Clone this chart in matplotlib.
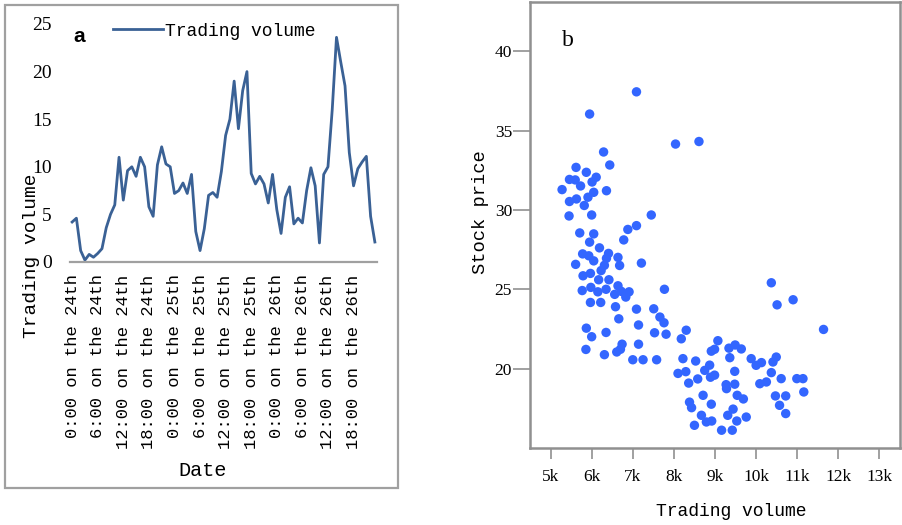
import matplotlib
matplotlib.use("Agg")
import matplotlib.pyplot as plt
from matplotlib.patches import Rectangle

# --- panel a: hourly trading volume, 24th-26th ---
volume = [4.2, 4.6, 1.2, 0.2, 0.8, 0.5, 0.9, 1.4, 3.6, 5.0,
          6.0, 11.0, 6.5, 9.6, 10.0, 9.0, 11.0, 10.0, 5.8, 4.8,
          10.2, 12.1, 10.3, 10.0, 7.2, 7.5, 8.3, 7.2, 9.2, 3.2,
          1.2, 3.5, 7.0, 7.3, 6.8, 9.5, 13.3, 15.0, 19.0, 14.0,
          18.0, 20.0, 9.3, 8.2, 9.0, 8.2, 6.2, 9.2, 5.5, 3.0,
          6.8, 7.9, 4.0, 4.6, 4.1, 7.5, 9.9, 8.0, 2.0, 9.2,
          10.0, 16.0, 23.6, 21.0, 18.5, 11.5, 8.0, 9.8, 10.5, 11.1,
          4.8, 2.1]
date_labels = ["0:00 on the 24th", "6:00 on the 24th", "12:00 on the 24th", "18:00 on the 24th",
               "0:00 on the 25th", "6:00 on the 25th", "12:00 on the 25th", "18:00 on the 25th",
               "0:00 on the 26th", "6:00 on the 26th", "12:00 on the 26th", "18:00 on the 26th"]

# --- panel b: trading volume vs stock price ---
trade_k = [7.09, 5.95, 8.04, 8.61, 6.29, 6.44, 5.62, 5.87, 6.11, 5.46,
           5.60, 6.01, 5.73, 5.28, 6.36, 6.05, 5.91, 5.63, 5.46, 5.82,
           5.45, 6.00, 7.45, 7.09, 6.88, 6.78, 5.71, 6.05, 5.95, 6.19,
           5.78, 5.93, 6.05, 6.41, 6.36, 6.64, 6.68, 5.61, 6.31, 6.23,
           7.21, 5.79, 5.97, 6.17, 6.42, 6.64, 5.77, 5.98, 6.15, 6.35,
           6.56, 6.72, 6.91, 6.83, 7.77, 5.97, 6.22, 6.58, 7.09, 7.51,
           6.66, 7.66, 7.76, 7.14, 5.87, 6.00, 6.35, 7.53, 7.81, 8.30,
           8.18, 6.74, 6.70, 6.61, 7.14, 5.86, 6.31, 7.00, 7.25, 7.58,
           8.22, 8.53, 9.07, 8.99, 8.91, 9.34, 9.49, 9.64, 9.36, 9.88,
           10.00, 10.13, 10.49, 10.41, 10.37, 10.51, 10.90, 11.64, 8.10, 8.29,
           8.36, 8.58, 8.75, 8.87, 8.99, 8.89, 9.48, 9.27, 9.48, 9.28,
           9.54, 9.69, 8.71, 8.38, 8.43, 8.91, 9.44, 9.31, 8.67, 8.79,
           8.92, 9.53, 9.76, 8.50, 9.16, 9.42, 10.09, 10.25, 10.37, 10.61,
           10.99, 11.14, 11.16, 10.47, 10.72, 10.57, 10.72]
price = [37.44, 36.04, 34.15, 34.31, 33.65, 32.83, 32.68, 32.37, 32.06, 31.92,
         31.89, 31.76, 31.51, 31.28, 31.21, 31.11, 30.80, 30.69, 30.53, 30.28,
         29.62, 29.68, 29.68, 29.01, 28.77, 28.11, 28.55, 28.49, 27.97, 27.61,
         27.23, 27.11, 26.79, 27.26, 26.95, 27.01, 26.50, 26.57, 26.51, 26.18,
         26.65, 25.85, 26.00, 25.60, 25.60, 25.22, 24.92, 25.12, 24.84, 25.00,
         24.68, 24.87, 24.84, 24.51, 25.00, 24.17, 24.17, 23.90, 23.75, 23.77,
         23.14, 23.25, 22.89, 22.75, 22.55, 22.01, 22.28, 22.26, 22.17, 22.42,
         21.88, 21.54, 21.22, 21.05, 21.54, 21.21, 20.88, 20.56, 20.56, 20.56,
         20.63, 20.48, 21.76, 21.22, 21.10, 21.29, 21.49, 21.24, 20.69, 20.63,
         20.21, 20.38, 20.73, 20.42, 25.41, 24.02, 24.34, 22.47, 19.70, 19.81,
         19.09, 19.35, 19.89, 20.22, 19.59, 19.46, 19.83, 18.99, 19.02, 18.74,
         18.32, 18.09, 18.32, 17.89, 17.54, 17.76, 17.45, 17.06, 17.06, 16.64,
         16.70, 16.70, 16.95, 16.43, 16.12, 16.12, 19.05, 19.16, 19.75, 19.37,
         19.37, 19.37, 18.53, 18.28, 18.28, 17.69, 17.17]
xticks_k = [5, 6, 7, 8, 9, 10, 11, 12, 13]
yticks_b = [20, 25, 30, 35, 40]

MONO = "Liberation Mono"
SERIF = "Liberation Serif"
W, H = 902, 525

fig = plt.figure(figsize=(W / 100, H / 100), dpi=100)

def fx(px):
    return px / W

def fy(py):
    return 1 - py / H

# frame around panel a
fig.patches.append(Rectangle((fx(5), fy(488)), fx(398) - fx(5), fy(5) - fy(488),
                             transform=fig.transFigure, fill=False,
                             edgecolor="#a0a0a0", linewidth=1.6))

# panel a
ax1 = fig.add_axes([fx(70), fy(262), fx(377) - fx(70), fy(24) - fy(262)])
hours = list(range(len(volume)))
ax1.plot(hours, volume, color="#3a6195", linewidth=2.0, label="Trading volume")
ax1.set_xlim(-0.5, len(volume) - 0.5)
ax1.set_ylim(0, 25)
ax1.set_yticks([0, 5, 10, 15, 20, 25])
ax1.set_xticks(hours[::6])
ax1.set_xticklabels(date_labels, rotation=90, family=MONO, fontsize=12.3)
for lab in ax1.get_yticklabels():
    lab.set_family(SERIF)
    lab.set_fontsize(14)
ax1.tick_params(axis="y", length=0, pad=13)
ax1.tick_params(axis="x", length=0, pad=9)
for s in ["left", "right", "top"]:
    ax1.spines[s].set_visible(False)
ax1.spines["bottom"].set_color("#a0a0a0")
ax1.spines["bottom"].set_linewidth(1.6)
ax1.patch.set_alpha(0)
ax1.legend(loc="center left", bbox_to_anchor=(0.14, 0.97), frameon=False,
           borderpad=0, borderaxespad=0, handlelength=2.75, handletextpad=0.15,
           prop={"family": MONO, "size": 13})
fig.text(fx(79), fy(37), "a", fontsize=15, fontweight="bold",
         family="Liberation Sans", ha="center", va="center")
fig.text(fx(31), fy(256), "Trading volume", rotation=90, family=MONO,
         fontsize=14, ha="center", va="center")
fig.text(fx(203), fy(471), "Date", family=MONO, fontsize=14.5,
         ha="center", va="center")

# panel b
ax2 = fig.add_axes([fx(530), fy(448), fx(900) - fx(530), fy(2) - fy(448)])
ax2.scatter([v * 1000 for v in trade_k], price, s=46, color="#3366ff",
            edgecolors="none", zorder=3)
ax2.set_xlim(4500, 13500)
ax2.set_ylim(15, 43.1)
ax2.set_xticks([v * 1000 for v in xticks_k])
ax2.set_xticklabels([f"{v}k" for v in xticks_k])
ax2.set_yticks(yticks_b)
for lab in ax2.get_xticklabels() + ax2.get_yticklabels():
    lab.set_family(SERIF)
    lab.set_fontsize(12.5)
for s in ax2.spines.values():
    s.set_color("#909090")
    s.set_linewidth(1.8)
ax2.tick_params(axis="x", length=8, width=1.2, color="#909090", pad=7)
ax2.tick_params(axis="y", length=12, width=1.2, color="#909090", pad=1)
fig.text(fx(568), fy(41), "b", family=SERIF, fontsize=17, ha="center", va="center")
fig.text(fx(481), fy(212), "Stock price", rotation=90, family=MONO,
         fontsize=13.5, ha="center", va="center")
fig.text(fx(731), fy(512), "Trading volume", family=MONO, fontsize=13,
         ha="center", va="center")

fig.savefig("out.png", dpi=100)
